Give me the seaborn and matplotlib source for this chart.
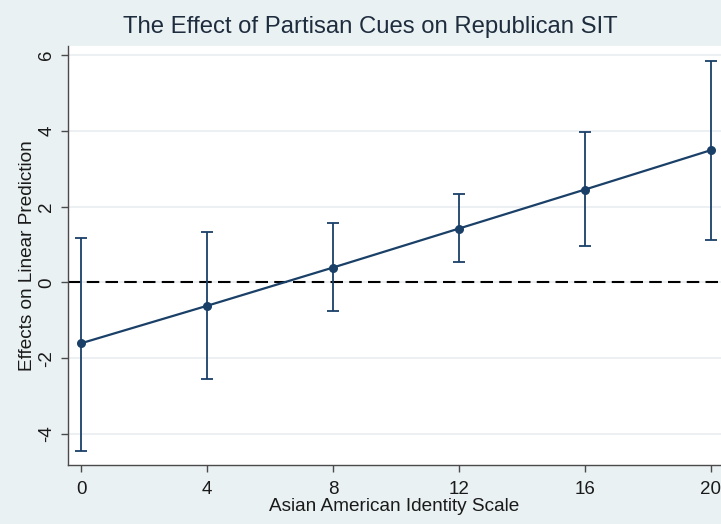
import matplotlib
matplotlib.use("Agg")
import matplotlib.pyplot as plt
import seaborn as sns
import pandas as pd

# Marginal effects of partisan cues across the identity scale
identity_scale = [0, 4, 8, 12, 16, 20]
effect = [-1.61, -0.62, 0.39, 1.42, 2.45, 3.49]
ci_low = [-4.46, -2.55, -0.75, 0.54, 0.95, 1.12]
ci_high = [1.18, 1.32, 1.57, 2.34, 3.96, 5.84]

x_ticks = [0, 4, 8, 12, 16, 20]
y_ticks = [-4, -2, 0, 2, 4, 6]

title_text = "The Effect of Partisan Cues on Republican SIT"
x_label = "Asian American Identity Scale"
y_label = "Effects on Linear Prediction"

df = pd.DataFrame({"scale": identity_scale, "effect": effect,
                   "lo": ci_low, "hi": ci_high})

sns.set_theme(style="white")
plt.rcParams["font.family"] = ["Liberation Sans", "DejaVu Sans"]

BG = "#EAF1F3"
NAVY = "#1A4068"
GRID = "#E9EEF0"
AXIS = "#4a4a4a"

fig = plt.figure(figsize=(7.21, 5.24), dpi=100, facecolor=BG)
ax = fig.add_axes([68 / 721, (524 - 464.5) / 524, 1 - 68 / 721, (464.5 - 46) / 524])
ax.set_facecolor("white")

# horizontal grid
for yv in y_ticks:
    ax.axhline(yv, color=GRID, lw=1.2, zorder=0)

# reference line at zero
ax.axhline(0, color="black", lw=1.5, linestyle=(0, (6, 3)), zorder=1)

# confidence intervals
ax.errorbar(df["scale"], df["effect"],
            yerr=[df["effect"] - df["lo"], df["hi"] - df["effect"]],
            fmt="none", ecolor=NAVY, elinewidth=1.3, capsize=4, capthick=1.3,
            zorder=2)

# point estimates joined by a line
sns.lineplot(data=df, x="scale", y="effect", ax=ax, color=NAVY, lw=1.6,
             marker="o", markersize=6.5, markeredgewidth=0, zorder=3)

ax.set_xlim(-0.413, 20.32)
ax.set_ylim(-4.81, 6.24)
ax.set_xticks(x_ticks)
ax.set_yticks(y_ticks)
ax.set_yticklabels([str(v) for v in y_ticks], rotation=90, va="center")

for side in ("top", "right"):
    ax.spines[side].set_visible(False)
for side in ("left", "bottom"):
    ax.spines[side].set_color(AXIS)
    ax.spines[side].set_linewidth(1.0)

ax.tick_params(axis="both", which="major", direction="out", length=5, width=1.0,
               color=AXIS, labelsize=13.5, labelcolor="#1a1a1a",
               left=True, bottom=True)
ax.tick_params(axis="x", pad=7)
ax.tick_params(axis="y", pad=4)

ax.set_xlabel(x_label, fontsize=13.7, color="#1a1a1a", labelpad=0)
ax.set_ylabel(y_label, fontsize=13.7, color="#1a1a1a", labelpad=2)

fig.text(370 / 721, 1 - 27 / 524, title_text, ha="center", va="center",
         fontsize=17.2, color="#1E2D3E")

fig.savefig("out.png", dpi=100, facecolor=BG)
